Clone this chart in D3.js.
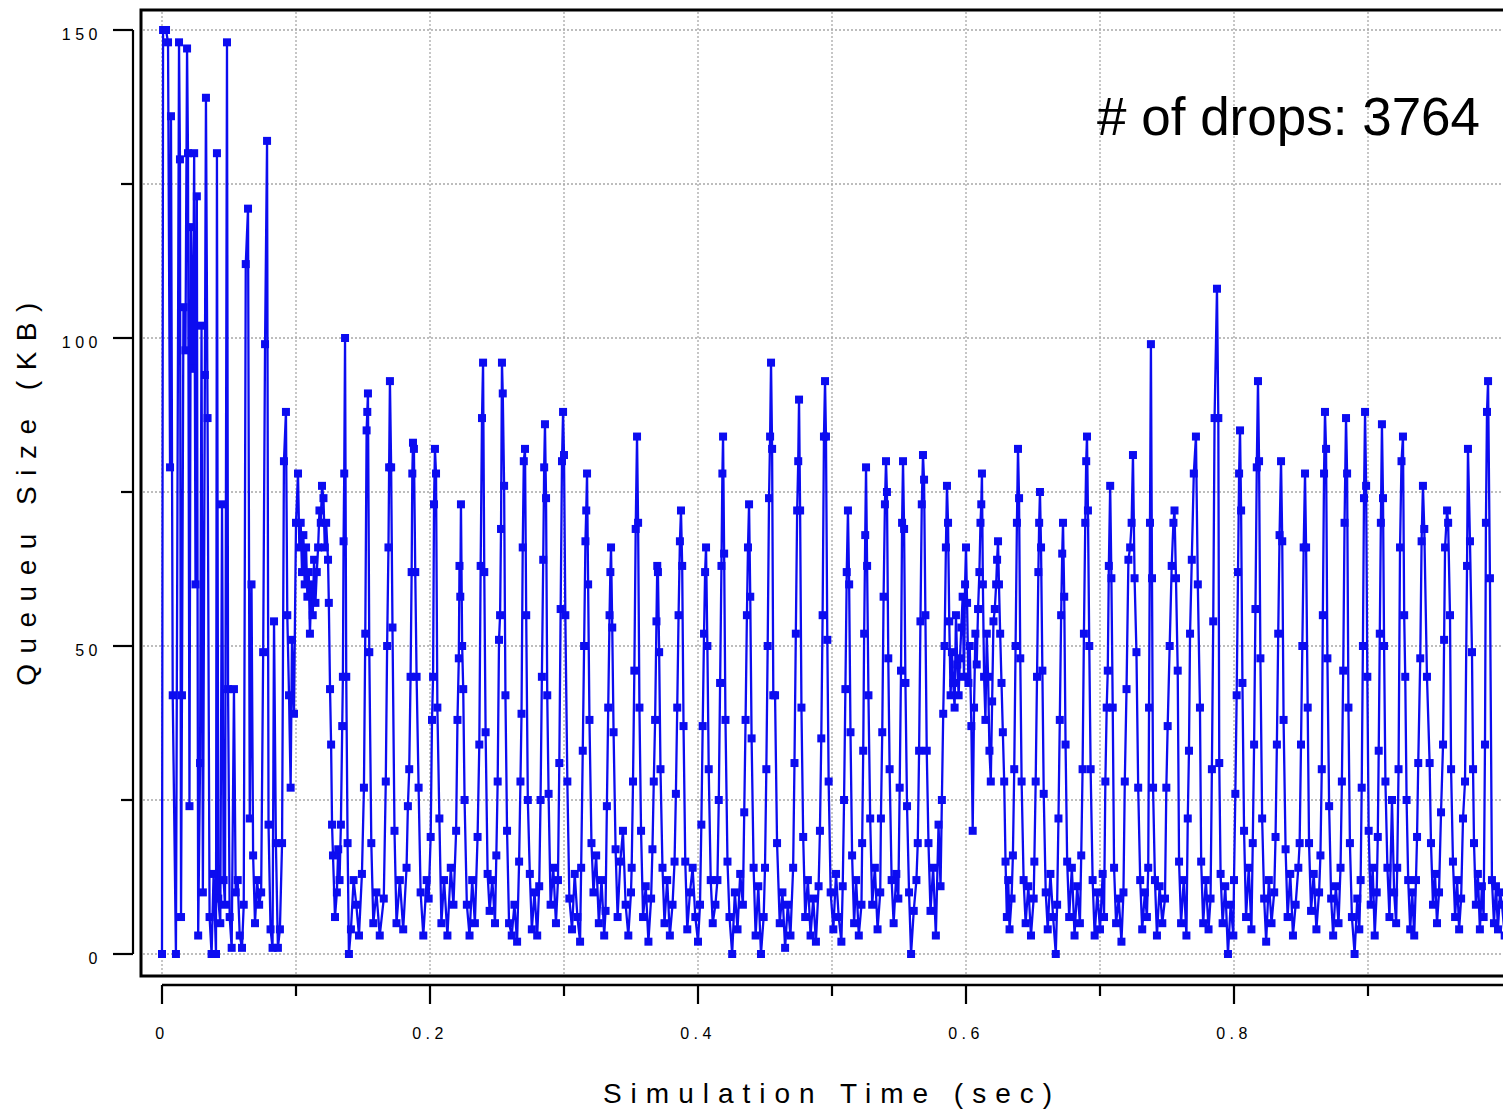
<!DOCTYPE html>
<html>
<head>
<meta charset="utf-8">
<script src="https://cdn.jsdelivr.net/npm/d3@7"></script>
<style>
  html, body { margin: 0; padding: 0; background: #fff; overflow: hidden; }
  svg { display: block; }
  text { font-family: "Liberation Sans", Arial, Helvetica, sans-serif; fill: #000; }
</style>
</head>
<body>
<div id="chart"></div>
<script>
// queue trace: [simulation time (ms), queue size (KB)]
var startupTrace = [
  [0,0],[0.8,150],[3,150],[4.5,148],[6,79],[6.7,136],[8,42],[10.4,0],[12.7,148],[13.4,129],
  [14.2,6],[14.9,42],[16,105],[17.5,98],[18.7,147],[19.4,130],[20.5,24],[21.5,118],[23,95],[24,130],
  [25,60],[26,123],[27,3],[28.4,31],[29.5,102],[30.5,10],[32,94],[32.8,139],[34,87],[35.5,6],
  [37,0],[38.5,13],[40.3,0],[41,130],[42,9],[43.5,5],[44.8,73],[46,12],[47,8],[48.5,148],
  [49.3,43],[50.5,6],[52,1],[53.7,43],[55,10],[56.5,12],[58,3],[59.7,1],[61,8],[62.5,112],
  [64.2,121],[65.5,22],[66.8,60],[68,16],[69.4,5],[71,12],[72.5,8],[74,10],[75.5,49],[76.9,99],
  [78.4,132],[79.5,21],[81,4],[82.5,1],[83.6,54],[85,18],[86.5,1],[88,4],[89.6,18],[91,80],
  [92.5,88],[93.5,55],[94.8,42],[96,27],[97,51],[98.5,39],[100,70]
];

var plateauTrace = [
  [101.5,78],[102.5,66],[103.5,70],[104.5,62],[105.5,68],[106.5,60],[107.5,66],[108.5,58],[109.5,62],[110.4,52],
  [111.5,60],[112.5,55],[113.5,64],[114.5,57],[115.5,62],[116.5,66],[117.5,72],[118.5,70],[119.4,76],[120.5,74],
  [121.5,66],[122.5,70],[123.9,64],[124.5,57],[125.4,43],[126.2,34],[126.9,21],[127.6,16],[129.1,6],[130.5,10],
  [131.5,17],[132.5,12],[133.5,21],[134.5,37],[135,45],[135.5,67],[136,78],[136.6,100],[137.5,45],[138.5,18],
  [139.5,0],[141,4],[143,12],[145,8],[147,3]
];

var steadyTrace = [
  [149.2,13],[150.7,27],[151.7,52],[152.7,85],[153.2,88],[153.7,91],[154.7,49],[156.2,18],[157.7,5],[160,10],[162.5,3],
  [165.5,9],[167,28],[168,50],[169,66],[169.5,79],[170.1,93],[171,79],[172,53],[173.5,20],[175,5],[177.5,12],[180,4],[182.5,14],
  [183.5,24],[184.5,30],[185.5,45],[186.3,62],[186.8,78],[187.3,83],[188,82],[189,62],[190,45],[191.5,27],[193,10],[195,3],[197.5,12],[199,9],
  [200.5,19],[201.5,38],[202.3,45],[203,73],[203.7,82],[204.5,78],[205.5,40],[207,22],[208.5,5],[210.5,12],[213,3],[215.5,14],[217.5,8],
  [219.5,20],[220.5,38],[221.5,48],[222,63],[222.6,58],[223.1,73],[224,50],[224.8,43],[225.8,25],[227.5,8],[229.5,3],[231.5,12],[233.5,5],
  [235.5,19],[236.8,34],[237.8,63],[238.8,87],[239.6,96],[240.5,62],[241.5,36],[243,13],[244.5,7],[246.5,12],[248.5,5],
  [249.5,16],[250.5,28],[251.5,51],[252.3,55],[253,69],[253.7,96],[254.3,91],[255.3,76],[256.3,42],[257.5,20],[259,5],[261,3],[263,8],[265,2],
  [266.5,15],[267.5,28],[268.3,39],[269.2,66],[270,80],[270.9,82],[271.8,55],[273,25],[274.5,13],[276,4],[278,10],[280,3],
  [281.5,11],[282.5,25],[283.5,45],[284.5,64],[285.2,79],[285.8,86],[286.6,74],[287.5,42],[288.5,26],[290,8],[292,14],[294,5],
  [295.5,12],[296.5,31],[297.5,56],[298.5,80],[299.3,88],[300,81],[301,55],[302.5,28],[304,9],[306,4],[308,13],[310,6],[312,2],
  [312.8,14],[314,33],[315,50],[316,67],[316.6,72],[317.2,78],[318,60],[319,38],[320.5,18],[322,10],[324,16],[326,5],[328,12],[330,3],
  [331,7],[332,24],[333,40],[334,55],[334.6,62],[335.1,66],[336,53],[337,36],[338.5,17],[340,6],[342,15],[344,20],[346,8],[348,3],[350,10],
  [350.5,14],[351.5,28],[352.5,46],[353.5,69],[354.5,84],[355.3,70],[356.3,40],[357.5,20],[359,6],[361,11],[363,2],[365,9],
  [366,17],[367,28],[368,38],[369,54],[369.6,63],[370.1,62],[371,49],[372,30],[373.5,14],[375,5],[377,12],[379,3],[381,8],
  [382.5,15],[383.5,26],[384.5,40],[385.5,55],[386.5,67],[387.3,72],[388.2,63],[389.2,37],[390.5,15],[392,4],[394,10],[396,14],[398,6],[400,2],
  [401.5,8],[402.5,21],[403.5,37],[404.5,52],[405.3,62],[406,66],[407,50],[408,30],[409.5,12],[411,5],[413,8],
  [414.5,12],[415.5,25],[416.5,44],[417.5,63],[418.2,78],[418.7,84],[419.5,65],[420.5,38],[422,15],[423.5,6],[425.5,0],[427.5,10],[429.5,4],[431.5,13],
  [433.5,8],[434.5,23],[435.5,38],[436.5,55],[437.3,66],[438.1,73],[439,58],[440,35],[441.5,14],[443,3],[445,11],[447,0],[449,6],
  [450,14],[451,30],[452,50],[453,74],[453.8,84],[454.5,96],[455.3,82],[456.2,42],[457.5,42],[459,18],[461,5],[463,10],[465,1],[467,8],[469,3],
  [471,14],[472,31],[473,52],[474,72],[474.8,80],[475.4,90],[476.2,72],[477.2,40],[478.5,19],[480,6],[482,12],[484,3],[486,9],[488,2],[490,11],
  [491,20],[492,35],[493,55],[494,84],[494.8,93],[495.5,84],[496.5,51],[497.5,28],[499,10],[501,4],[503,13],[505,6],[507,2],
  [508,11],[509,25],[510,43],[511,62],[511.9,72],[512.8,60],[513.8,36],[515,16],[516.5,5],[518,12],[520,3],[522,8],
  [522.5,18],[523.3,33],[524,52],[524.8,68],[525.4,79],[526.2,63],[527.2,42],[528.5,22],[530,8],[532,14],[534,4],[536,10],
  [536.5,22],[537.5,36],[538.5,58],[539.5,73],[540.3,80],[541,75],[542,48],[543,30],[544.5,12],[546,5],[548,13],
  [549.5,9],[550.5,27],[551.5,46],[552.3,70],[553,80],[553.8,69],[554.8,44],[556,24],[557.5,10],[559,0],[561,7],[563,12],
  [564,18],[565,33],[566,54],[567,73],[567.9,81],[568.7,77],[569.7,55],[570.7,33],[572,18],[573.5,7],[575.5,14],[577.5,3],[579.5,21],[581,11],
  [582,25],[583,39],[584,50],[585,66],[585.8,76],[586.6,70],[587.5,54],[588.5,42],[589.5,49],[590.5,44],[591.5,40],[592.5,55],[593.5,47],[594.5,42],
  [595.5,48],[596.5,53],[597.5,58],[598.5,45],[599.3,60],[600,66],[600.8,57],[601.8,44],[602.8,50],[604,37],[605,20],[606,40],[607,52],[608,47],[609,56],
  [610,62],[610.8,70],[611.4,73],[611.9,78],[612.6,60],[613.5,45],[614.5,38],[615.5,52],[616.5,45],[617.5,33],[618.5,28],[619.5,41],[620.5,54],
  [621.5,56],[622.5,60],[623.2,64],[623.9,67],[624.6,60],[625.5,52],[626.5,44],[627.5,36],[628.5,28],[629.5,15],[630.5,6],[631.5,12],[632.5,4],[634,9],
  [635,16],[636,30],[637,50],[638,70],[638.8,82],[639.6,74],[640.5,48],[641.5,28],[643,12],[644.5,5],[646.5,11],[648.5,3],[650.5,9],
  [651,15],[652,28],[653,45],[654,62],[654.6,70],[655.2,75],[656,66],[657,46],[658,26],[659.5,10],[661,4],[663,13],[665,6],[667,0],
  [668,8],[669,22],[670,38],[671,55],[671.8,65],[672.4,70],[673.3,58],[674.3,34],[675.5,15],[677,6],[679,14],[681,3],[683,11],[685,5],
  [686,16],[687,30],[688,52],[689,70],[689.7,80],[690.3,84],[691,72],[692,50],[693,30],[694.5,12],[696,3],[698,10],[700,4],[702,13],
  [703,6],[704,28],[705,40],[705.8,46],[706.6,63],[707.6,76],[708.5,61],[709.5,40],[710.5,14],[712,5],[714,9],[716,2],
  [717.5,10],[718.5,28],[719.8,43],[721.2,64],[722.5,66],[723.6,70],[724.6,81],[725.8,61],[727.2,49],[728.5,27],[730,12],[731.5,4],[733.5,10],[735,6],
  [736,14],[736.6,40],[737.3,70],[738,99],[738.8,61],[739.6,27],[741,12],[742.5,3],[744.5,11],[746.5,5],[748.5,9],
  [749.5,27],[750.5,37],[752,50],[753.5,63],[754.8,70],[755.6,72],[756.7,61],[758,46],[759,15],[760.5,5],[762.5,12],[764.5,3],
  [765.5,22],[766.4,33],[767.2,52],[768.5,64],[770,78],[771.6,84],[773,60],[774.6,40],[775.5,15],[777,5],[779,12],[781,4],[782.5,9],
  [783.5,30],[784.5,54],[785.5,87],[787.3,108],[788.3,87],[789,31],[790,13],[791.5,5],[793.5,11],[795.5,0],[797.5,8],[799.5,3],
  [800,12],[801,26],[802,42],[803,62],[803.8,78],[804.5,85],[805.3,72],[806.3,44],[807.5,20],[809,6],[811,14],[813,4],
  [814,18],[815,34],[816,56],[817,79],[817.9,93],[818.7,80],[819.7,48],[821,22],[822.5,9],[824,2],[826,12],[828,5],[830,10],
  [831,19],[832,34],[833,52],[834,68],[835.1,80],[836,67],[837,38],[838.5,17],[840,6],[842,13],[844,3],[846,8],[848,14],
  [849,18],[850,34],[851,50],[852,66],[853,78],[853.8,66],[855,40],[856,18],[857.5,7],[859.5,13],[861.5,4],[863.5,10],
  [864.5,16],[865.5,30],[866.3,55],[867.2,78],[867.9,88],[868.7,82],[869.7,48],[871,24],[872.5,9],[874,3],[876,11],[878,5],
  [879.5,14],[880.5,28],[881.5,46],[882.5,70],[883.6,87],[884.4,78],[885.4,40],[886.5,18],[888,6],[890,0],[892,9],[893.5,4],
  [894.5,12],[895.3,27],[896.2,50],[897,74],[897.8,88],[898.6,76],[899.5,45],[900.5,20],[902,8],[903.5,14],[905,3],[906.5,10],
  [907.3,19],[908,33],[908.8,52],[909.6,70],[910.4,86],[911.2,74],[912,50],[913,28],[914.5,14],[916,6],[917.9,25],[919.5,10],[921,5],
  [921.8,14],[922.8,30],[923.9,66],[925,80],[926.1,84],[927,55],[927.8,45],[928.8,25],[930,12],[931.5,4],[933,10],[934.5,3],[935.8,12],
  [936.6,19],[937.5,31],[939,48],[940,67],[941,76],[942,69],[944,45],[946,31],[947,18],[948.5,8],[950,13],[951.5,5],[953,10],
  [954.5,23],[956,34],[956.8,51],[957.5,66],[959,72],[959.8,70],[961.2,55],[962,30],[963.4,15],[965,6],[966.5,12],[968,4],[969.5,9],
  [970.9,22],[972.4,28],[973.9,63],[974.6,82],[976.1,67],[977.6,49],[978.4,30],[979.1,18],[980.5,8],[982,13],[983.5,4],[985,11],[986.3,6],
  [987.3,34],[988,70],[988.8,88],[989.6,93],[991,61],[992.5,12],[994,5],[995.5,11],[997,4],[998.5,10],[1000,8],[1002,3]
];

var xMajorTicks = [0, 0.2, 0.4, 0.6, 0.8];
var xMinorTicks = [0.1, 0.3, 0.5, 0.7, 0.9];
var xGridLines = [0, 0.1, 0.2, 0.3, 0.4, 0.5, 0.6, 0.7, 0.8, 0.9];
var yMajorTicks = [0, 50, 100, 150];
var yMinorTicks = [25, 75, 125];
var yGridLines = [0, 25, 50, 75, 100, 125, 150];
var xTitle = 'Simulation Time (sec)';
var yTitle = 'Queueu Size (KB)';
var dropsNote = '# of drops: 3764';

var attrs = {
  svgWidth: 1503,
  svgHeight: 1111,
  frameLeft: 141,
  frameTop: 10,
  frameBottom: 976,
  lineColor: '#0c0cf0'
};

var trace = startupTrace.concat(plateauTrace, steadyTrace);

var svg = d3.select('#chart')
  .append('svg')
  .attr('width', attrs.svgWidth)
  .attr('height', attrs.svgHeight);

// scales (x in seconds)
var x = d3.scaleLinear().domain([0, 1]).range([162, 1502]);
var y = d3.scaleLinear().domain([0, 150]).range([954, 30]);

svg.append('clipPath').attr('id', 'plotClip')
  .append('rect')
  .attr('x', attrs.frameLeft + 1.5)
  .attr('y', attrs.frameTop + 1.5)
  .attr('width', attrs.svgWidth)
  .attr('height', attrs.frameBottom - attrs.frameTop - 3);

/* ############## GRID ############## */
var grid = svg.append('g').attr('class', 'grid');

grid.selectAll('.vgrid')
  .data(xGridLines)
  .enter()
  .append('line')
  .attr('x1', d => x(d)).attr('x2', d => x(d))
  .attr('y1', attrs.frameTop + 2).attr('y2', attrs.frameBottom - 2)
  .attr('stroke', '#a8a8a8')
  .attr('stroke-width', 1.3)
  .attr('stroke-dasharray', '2,2');

grid.selectAll('.hgrid')
  .data(yGridLines)
  .enter()
  .append('line')
  .attr('x1', attrs.frameLeft + 2).attr('x2', attrs.svgWidth)
  .attr('y1', d => y(d)).attr('y2', d => y(d))
  .attr('stroke', '#a8a8a8')
  .attr('stroke-width', 1.3)
  .attr('stroke-dasharray', '2,2');

/* ############## DATA ############## */
var plot = svg.append('g').attr('clip-path', 'url(#plotClip)');

var line = d3.line()
  .x(d => x(d[0] / 1000))
  .y(d => y(d[1]));

plot.append('path')
  .datum(trace)
  .attr('d', line)
  .attr('fill', 'none')
  .attr('stroke', attrs.lineColor)
  .attr('stroke-width', 2.3)
  .attr('stroke-linejoin', 'round');

var markerSize = 8;
plot.selectAll('.marker')
  .data(trace)
  .enter()
  .append('rect')
  .attr('x', d => x(d[0] / 1000) - markerSize / 2)
  .attr('y', d => y(d[1]) - markerSize / 2)
  .attr('width', markerSize)
  .attr('height', markerSize)
  .attr('fill', attrs.lineColor);

/* ############## FRAME ############## */
svg.append('path')
  .attr('d', 'M' + (attrs.svgWidth + 5) + ',' + attrs.frameTop +
             'H' + attrs.frameLeft +
             'V' + attrs.frameBottom +
             'H' + (attrs.svgWidth + 5))
  .attr('fill', 'none')
  .attr('stroke', '#000')
  .attr('stroke-width', 3);

/* ############## AXES ############## */
var yAxisX = 133;
var yAxis = svg.append('g');

yAxis.append('line')
  .attr('x1', yAxisX).attr('x2', yAxisX)
  .attr('y1', y(150)).attr('y2', y(0))
  .attr('stroke', '#000').attr('stroke-width', 2.2);

yAxis.selectAll('.ymajor')
  .data(yMajorTicks)
  .enter()
  .append('line')
  .attr('x1', yAxisX - 20).attr('x2', yAxisX)
  .attr('y1', d => y(d)).attr('y2', d => y(d))
  .attr('stroke', '#000').attr('stroke-width', 2.2);

yAxis.selectAll('.yminor')
  .data(yMinorTicks)
  .enter()
  .append('line')
  .attr('x1', yAxisX - 12).attr('x2', yAxisX)
  .attr('y1', d => y(d)).attr('y2', d => y(d))
  .attr('stroke', '#000').attr('stroke-width', 2.2);

yAxis.selectAll('.ylabel')
  .data(yMajorTicks)
  .enter()
  .append('text')
  .attr('x', 102)
  .attr('y', d => y(d) + 10)
  .attr('text-anchor', 'end')
  .attr('font-size', 16)
  .attr('letter-spacing', 4.5)
  .attr('fill', '#444')
  .text(d => d);

var xAxisY = 985;
var xAxis = svg.append('g');

xAxis.append('line')
  .attr('x1', x(0)).attr('x2', attrs.svgWidth)
  .attr('y1', xAxisY).attr('y2', xAxisY)
  .attr('stroke', '#000').attr('stroke-width', 2.5);

xAxis.selectAll('.xmajor')
  .data(xMajorTicks)
  .enter()
  .append('line')
  .attr('x1', d => x(d)).attr('x2', d => x(d))
  .attr('y1', xAxisY).attr('y2', xAxisY + 19)
  .attr('stroke', '#000').attr('stroke-width', 2.2);

xAxis.selectAll('.xminor')
  .data(xMinorTicks)
  .enter()
  .append('line')
  .attr('x1', d => x(d)).attr('x2', d => x(d))
  .attr('y1', xAxisY).attr('y2', xAxisY + 11)
  .attr('stroke', '#000').attr('stroke-width', 2.2);

xAxis.selectAll('.xlabel')
  .data(xMajorTicks)
  .enter()
  .append('text')
  .attr('x', d => x(d))
  .attr('y', 1039)
  .attr('text-anchor', 'middle')
  .attr('font-size', 16)
  .attr('letter-spacing', 4.5)
  .attr('fill', '#444')
  .text(d => d === 0 ? '0' : d3.format('.1f')(d));

/* ############## TITLES ############## */
svg.append('text')
  .attr('x', 832)
  .attr('y', 1103)
  .attr('text-anchor', 'middle')
  .attr('font-size', 28)
  .attr('letter-spacing', 9)
  .attr('fill', '#222')
  .text(xTitle);

svg.append('text')
  .attr('transform', 'translate(36,' + 489 + ') rotate(-90)')
  .attr('text-anchor', 'middle')
  .attr('font-size', 28)
  .attr('letter-spacing', 10.5)
  .attr('fill', '#222')
  .text(yTitle);

svg.append('text')
  .attr('x', 1097)
  .attr('y', 135)
  .attr('font-size', 53)
  .text(dropsNote);
</script>
</body>
</html>
